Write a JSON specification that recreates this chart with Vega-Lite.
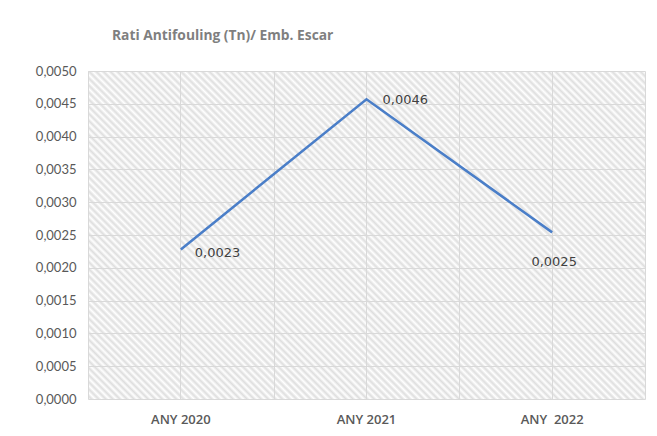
{
  "$schema": "https://vega.github.io/schema/vega-lite/v6.json",
  "width": 557,
  "height": 328,
  "autosize": "none",
  "padding": {"left": 88, "top": 71, "right": 12, "bottom": 37},
  "background": "#ffffff",
  "config": {
    "font": "Lato",
    "locale": {"number": {"decimal": ",", "thousands": ".", "grouping": [3], "currency": ["", " €"]}},
    "view": {
      "stroke": null,
      "fill": {
        "gradient": "linear", "x1": 0, "y1": 1, "x2": 1.1776, "y2": 0.3065,
        "stops": [
          {"offset":0,"color":"#fff"},{"offset":0.004,"color":"#dedede"},{"offset":0.008,"color":"#fff"},{"offset":0.012,"color":"#dedede"},{"offset":0.016,"color":"#fff"},{"offset":0.02,"color":"#dedede"},{"offset":0.024,"color":"#fff"},{"offset":0.028,"color":"#dedede"},{"offset":0.032,"color":"#fff"},{"offset":0.036,"color":"#dedede"},
          {"offset":0.04,"color":"#fff"},{"offset":0.044,"color":"#dedede"},{"offset":0.048,"color":"#fff"},{"offset":0.052,"color":"#dedede"},{"offset":0.056,"color":"#fff"},{"offset":0.06,"color":"#dedede"},{"offset":0.064,"color":"#fff"},{"offset":0.068,"color":"#dedede"},{"offset":0.072,"color":"#fff"},{"offset":0.076,"color":"#dedede"},
          {"offset":0.08,"color":"#fff"},{"offset":0.084,"color":"#dedede"},{"offset":0.088,"color":"#fff"},{"offset":0.092,"color":"#dedede"},{"offset":0.096,"color":"#fff"},{"offset":0.1,"color":"#dedede"},{"offset":0.104,"color":"#fff"},{"offset":0.108,"color":"#dedede"},{"offset":0.112,"color":"#fff"},{"offset":0.116,"color":"#dedede"},
          {"offset":0.12,"color":"#fff"},{"offset":0.124,"color":"#dedede"},{"offset":0.128,"color":"#fff"},{"offset":0.132,"color":"#dedede"},{"offset":0.136,"color":"#fff"},{"offset":0.14,"color":"#dedede"},{"offset":0.144,"color":"#fff"},{"offset":0.148,"color":"#dedede"},{"offset":0.152,"color":"#fff"},{"offset":0.156,"color":"#dedede"},
          {"offset":0.16,"color":"#fff"},{"offset":0.164,"color":"#dedede"},{"offset":0.168,"color":"#fff"},{"offset":0.172,"color":"#dedede"},{"offset":0.176,"color":"#fff"},{"offset":0.18,"color":"#dedede"},{"offset":0.184,"color":"#fff"},{"offset":0.188,"color":"#dedede"},{"offset":0.192,"color":"#fff"},{"offset":0.196,"color":"#dedede"},
          {"offset":0.2,"color":"#fff"},{"offset":0.204,"color":"#dedede"},{"offset":0.208,"color":"#fff"},{"offset":0.212,"color":"#dedede"},{"offset":0.216,"color":"#fff"},{"offset":0.22,"color":"#dedede"},{"offset":0.224,"color":"#fff"},{"offset":0.228,"color":"#dedede"},{"offset":0.232,"color":"#fff"},{"offset":0.236,"color":"#dedede"},
          {"offset":0.24,"color":"#fff"},{"offset":0.244,"color":"#dedede"},{"offset":0.248,"color":"#fff"},{"offset":0.252,"color":"#dedede"},{"offset":0.256,"color":"#fff"},{"offset":0.26,"color":"#dedede"},{"offset":0.264,"color":"#fff"},{"offset":0.268,"color":"#dedede"},{"offset":0.272,"color":"#fff"},{"offset":0.276,"color":"#dedede"},
          {"offset":0.28,"color":"#fff"},{"offset":0.284,"color":"#dedede"},{"offset":0.288,"color":"#fff"},{"offset":0.292,"color":"#dedede"},{"offset":0.296,"color":"#fff"},{"offset":0.3,"color":"#dedede"},{"offset":0.304,"color":"#fff"},{"offset":0.308,"color":"#dedede"},{"offset":0.312,"color":"#fff"},{"offset":0.316,"color":"#dedede"},
          {"offset":0.32,"color":"#fff"},{"offset":0.324,"color":"#dedede"},{"offset":0.328,"color":"#fff"},{"offset":0.332,"color":"#dedede"},{"offset":0.336,"color":"#fff"},{"offset":0.34,"color":"#dedede"},{"offset":0.344,"color":"#fff"},{"offset":0.348,"color":"#dedede"},{"offset":0.352,"color":"#fff"},{"offset":0.356,"color":"#dedede"},
          {"offset":0.36,"color":"#fff"},{"offset":0.364,"color":"#dedede"},{"offset":0.368,"color":"#fff"},{"offset":0.372,"color":"#dedede"},{"offset":0.376,"color":"#fff"},{"offset":0.38,"color":"#dedede"},{"offset":0.384,"color":"#fff"},{"offset":0.388,"color":"#dedede"},{"offset":0.392,"color":"#fff"},{"offset":0.396,"color":"#dedede"},
          {"offset":0.4,"color":"#fff"},{"offset":0.404,"color":"#dedede"},{"offset":0.408,"color":"#fff"},{"offset":0.412,"color":"#dedede"},{"offset":0.416,"color":"#fff"},{"offset":0.42,"color":"#dedede"},{"offset":0.424,"color":"#fff"},{"offset":0.428,"color":"#dedede"},{"offset":0.432,"color":"#fff"},{"offset":0.436,"color":"#dedede"},
          {"offset":0.44,"color":"#fff"},{"offset":0.444,"color":"#dedede"},{"offset":0.448,"color":"#fff"},{"offset":0.452,"color":"#dedede"},{"offset":0.456,"color":"#fff"},{"offset":0.46,"color":"#dedede"},{"offset":0.464,"color":"#fff"},{"offset":0.468,"color":"#dedede"},{"offset":0.472,"color":"#fff"},{"offset":0.476,"color":"#dedede"},
          {"offset":0.48,"color":"#fff"},{"offset":0.484,"color":"#dedede"},{"offset":0.488,"color":"#fff"},{"offset":0.492,"color":"#dedede"},{"offset":0.496,"color":"#fff"},{"offset":0.5,"color":"#dedede"},{"offset":0.504,"color":"#fff"},{"offset":0.508,"color":"#dedede"},{"offset":0.512,"color":"#fff"},{"offset":0.516,"color":"#dedede"},
          {"offset":0.52,"color":"#fff"},{"offset":0.524,"color":"#dedede"},{"offset":0.528,"color":"#fff"},{"offset":0.532,"color":"#dedede"},{"offset":0.536,"color":"#fff"},{"offset":0.54,"color":"#dedede"},{"offset":0.544,"color":"#fff"},{"offset":0.548,"color":"#dedede"},{"offset":0.552,"color":"#fff"},{"offset":0.556,"color":"#dedede"},
          {"offset":0.56,"color":"#fff"},{"offset":0.564,"color":"#dedede"},{"offset":0.568,"color":"#fff"},{"offset":0.572,"color":"#dedede"},{"offset":0.576,"color":"#fff"},{"offset":0.58,"color":"#dedede"},{"offset":0.584,"color":"#fff"},{"offset":0.588,"color":"#dedede"},{"offset":0.592,"color":"#fff"},{"offset":0.596,"color":"#dedede"},
          {"offset":0.6,"color":"#fff"},{"offset":0.604,"color":"#dedede"},{"offset":0.608,"color":"#fff"},{"offset":0.612,"color":"#dedede"},{"offset":0.616,"color":"#fff"},{"offset":0.62,"color":"#dedede"},{"offset":0.624,"color":"#fff"},{"offset":0.628,"color":"#dedede"},{"offset":0.632,"color":"#fff"},{"offset":0.636,"color":"#dedede"},
          {"offset":0.64,"color":"#fff"},{"offset":0.644,"color":"#dedede"},{"offset":0.648,"color":"#fff"},{"offset":0.652,"color":"#dedede"},{"offset":0.656,"color":"#fff"},{"offset":0.66,"color":"#dedede"},{"offset":0.664,"color":"#fff"},{"offset":0.668,"color":"#dedede"},{"offset":0.672,"color":"#fff"},{"offset":0.676,"color":"#dedede"},
          {"offset":0.68,"color":"#fff"},{"offset":0.684,"color":"#dedede"},{"offset":0.688,"color":"#fff"},{"offset":0.692,"color":"#dedede"},{"offset":0.696,"color":"#fff"},{"offset":0.7,"color":"#dedede"},{"offset":0.704,"color":"#fff"},{"offset":0.708,"color":"#dedede"},{"offset":0.712,"color":"#fff"},{"offset":0.716,"color":"#dedede"},
          {"offset":0.72,"color":"#fff"},{"offset":0.724,"color":"#dedede"},{"offset":0.728,"color":"#fff"},{"offset":0.732,"color":"#dedede"},{"offset":0.736,"color":"#fff"},{"offset":0.74,"color":"#dedede"},{"offset":0.744,"color":"#fff"},{"offset":0.748,"color":"#dedede"},{"offset":0.752,"color":"#fff"},{"offset":0.756,"color":"#dedede"},
          {"offset":0.76,"color":"#fff"},{"offset":0.764,"color":"#dedede"},{"offset":0.768,"color":"#fff"},{"offset":0.772,"color":"#dedede"},{"offset":0.776,"color":"#fff"},{"offset":0.78,"color":"#dedede"},{"offset":0.784,"color":"#fff"},{"offset":0.788,"color":"#dedede"},{"offset":0.792,"color":"#fff"},{"offset":0.796,"color":"#dedede"},
          {"offset":0.8,"color":"#fff"},{"offset":0.804,"color":"#dedede"},{"offset":0.808,"color":"#fff"},{"offset":0.812,"color":"#dedede"},{"offset":0.816,"color":"#fff"},{"offset":0.82,"color":"#dedede"},{"offset":0.824,"color":"#fff"},{"offset":0.828,"color":"#dedede"},{"offset":0.832,"color":"#fff"},{"offset":0.836,"color":"#dedede"},
          {"offset":0.84,"color":"#fff"},{"offset":0.844,"color":"#dedede"},{"offset":0.848,"color":"#fff"},{"offset":0.852,"color":"#dedede"},{"offset":0.856,"color":"#fff"},{"offset":0.86,"color":"#dedede"},{"offset":0.864,"color":"#fff"},{"offset":0.868,"color":"#dedede"},{"offset":0.872,"color":"#fff"},{"offset":0.876,"color":"#dedede"},
          {"offset":0.88,"color":"#fff"},{"offset":0.884,"color":"#dedede"},{"offset":0.888,"color":"#fff"},{"offset":0.892,"color":"#dedede"},{"offset":0.896,"color":"#fff"},{"offset":0.9,"color":"#dedede"},{"offset":0.904,"color":"#fff"},{"offset":0.908,"color":"#dedede"},{"offset":0.912,"color":"#fff"},{"offset":0.916,"color":"#dedede"},
          {"offset":0.92,"color":"#fff"},{"offset":0.924,"color":"#dedede"},{"offset":0.928,"color":"#fff"},{"offset":0.932,"color":"#dedede"},{"offset":0.936,"color":"#fff"},{"offset":0.94,"color":"#dedede"},{"offset":0.944,"color":"#fff"},{"offset":0.948,"color":"#dedede"},{"offset":0.952,"color":"#fff"},{"offset":0.956,"color":"#dedede"},
          {"offset":0.96,"color":"#fff"},{"offset":0.964,"color":"#dedede"},{"offset":0.968,"color":"#fff"},{"offset":0.972,"color":"#dedede"},{"offset":0.976,"color":"#fff"},{"offset":0.98,"color":"#dedede"},{"offset":0.984,"color":"#fff"},{"offset":0.988,"color":"#dedede"},{"offset":0.992,"color":"#fff"},{"offset":0.996,"color":"#dedede"},
          {"offset":1,"color":"#fff"}
        ]
      }
    }
  },
  "title": {
    "text": "Rati Antifouling (Tn)/ Emb. Escar",
    "anchor": "start",
    "frame": "group",
    "dx": 24,
    "offset": 22,
    "fontSize": 13.8,
    "fontWeight": "bold",
    "color": "#7f7f7f",
    "font": "Open Sans"
  },
  "data": {
    "values": [
      {"year": "ANY 2020", "value": 0.00228},
      {"year": "ANY 2021", "value": 0.00457},
      {"year": "ANY \u00a02022", "value": 0.00254}
    ]
  },
  "encoding": {
    "y": {
      "field": "value",
      "type": "quantitative",
      "scale": {"domain": [0, 0.005], "nice": false, "zero": true},
      "axis": {
        "title": null,
        "values": [0, 0.0005, 0.001, 0.0015, 0.002, 0.0025, 0.003, 0.0035, 0.004, 0.0045, 0.005],
        "format": ".4f",
        "labelFontSize": 13,
        "labelColor": "#595959",
        "labelPadding": 12,
        "domain": false,
        "ticks": false,
        "grid": true,
        "gridColor": "#d9d9d9",
        "gridWidth": 1
      }
    }
  },
  "resolve": {"axis": {"x": "independent"}},
  "layer": [
    {
      "mark": {"type": "line", "color": "#4a7ec8", "strokeWidth": 2.5},
      "encoding": {
        "x": {
          "field": "year",
          "type": "nominal",
          "sort": null,
          "scale": {"type": "band", "paddingInner": 0, "paddingOuter": 0},
          "axis": {
            "title": null,
            "labelAngle": 0,
            "labelFontSize": 13,
            "labelFont": "Open Sans",
            "labelFontWeight": 600,
            "labelColor": "#595959",
            "labelPadding": 14,
            "domain": false,
            "ticks": false,
            "grid": true,
            "bandPosition": 0.5,
            "gridColor": "#d9d9d9",
            "gridWidth": 1
          }
        }
      }
    },
    {
      "transform": [{"filter": "datum.year == 'ANY 2020'"}],
      "mark": {"type": "text", "align": "left", "baseline": "middle", "dx": 14, "dy": 4, "fontSize": 13, "font": "DejaVu Sans", "color": "#404040"},
      "encoding": {
        "x": {
          "field": "year",
          "type": "nominal",
          "sort": null,
          "axis": {
            "orient": "top",
            "title": null,
            "labels": false,
            "ticks": false,
            "domain": false,
            "grid": true,
            "tickBand": "extent",
            "gridColor": "#d9d9d9",
            "gridWidth": 1
          }
        },
        "text": {"field": "value", "type": "quantitative", "format": ".4f"}
      }
    },
    {
      "transform": [{"filter": "datum.year == 'ANY 2021'"}],
      "mark": {"type": "text", "align": "left", "baseline": "middle", "dx": 16, "dy": 1, "fontSize": 13, "font": "DejaVu Sans", "color": "#404040"},
      "encoding": {
        "x": {"field": "year", "type": "nominal", "sort": null, "axis": null},
        "text": {"field": "value", "type": "quantitative", "format": ".4f"}
      }
    },
    {
      "transform": [{"filter": "datum.year != 'ANY 2020' && datum.year != 'ANY 2021'"}],
      "mark": {"type": "text", "align": "center", "baseline": "middle", "dx": 2, "dy": 30, "fontSize": 13, "font": "DejaVu Sans", "color": "#404040"},
      "encoding": {
        "x": {"field": "year", "type": "nominal", "sort": null, "axis": null},
        "text": {"field": "value", "type": "quantitative", "format": ".4f"}
      }
    }
  ]
}
